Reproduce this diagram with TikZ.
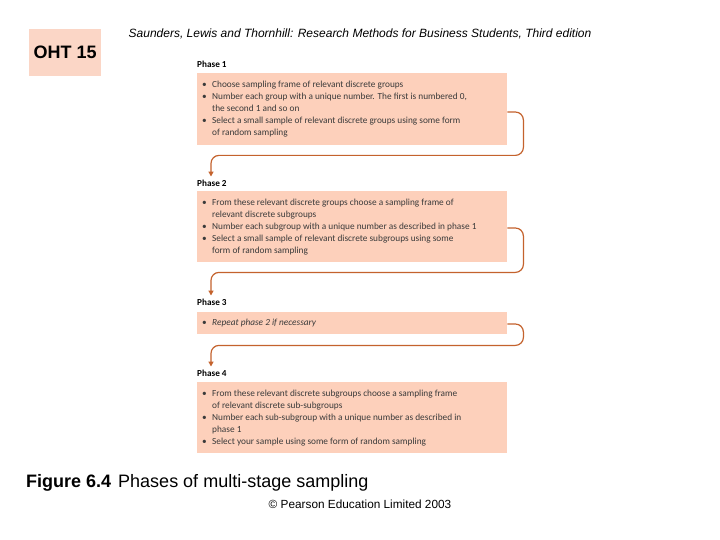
\documentclass[tikz,border=0pt]{standalone}
\usepackage{fontspec}
\setmainfont{Liberation Sans}
\newfontfamily\boxfont{Carlito}
\usetikzlibrary{arrows.meta,calc}
\definecolor{peach}{HTML}{FDD0BB}
\definecolor{ohtpeach}{HTML}{FBD6C6}
\definecolor{conn}{HTML}{C4622D}
\definecolor{txt}{HTML}{3A3A3A}
\newcommand\bu{\makebox[10pt][l]{\textbullet}}
\newcommand\ind{\hspace*{10pt}}
\begin{document}
\begin{tikzpicture}[x=1pt,y=-1pt,
  phasebox/.style={fill=peach, draw=none, anchor=north west, minimum width=310pt, inner sep=0pt},
  boxtext/.style={anchor=north west, inner sep=0pt, align=left, text=txt,
    font=\boxfont\fontsize{9.3}{12.2}\selectfont},
  phaselabel/.style={anchor=west, inner sep=0pt, font=\boxfont\bfseries\fontsize{9.2}{10}\selectfont},
  connector/.style={draw=conn, line width=1.2pt, rounded corners=8pt, -{Triangle[length=5pt,width=5pt]}}]
\useasboundingbox[fill=white] (0,0) rectangle (720,540);

\node[fill=ohtpeach, minimum width=72pt, minimum height=47pt, anchor=north west, inner sep=0pt,
  font=\bfseries\fontsize{18}{20}\selectfont] (oht) at (29,29) {OHT 15};
\node[font=\itshape\fontsize{12}{14}\selectfont] (hdr) at (360,34)
  {Saunders, Lewis and Thornhill: Research Methods for Business Students, Third edition};

% Phase 1
\node[phaselabel] (l1) at (197,64) {Phase 1};
\node[phasebox, minimum height=72pt] (b1) at (197,73) {};
\node[boxtext] (t1) at (202,80.5) {\bu Choose sampling frame of relevant discrete groups\\
\bu Number each group with a unique number. The first is numbered 0,\\
\ind the second 1 and so on\\
\bu Select a small sample of relevant discrete groups using some form\\
\ind of random sampling};

% Phase 2
\node[phaselabel] (l2) at (197,183) {Phase 2};
\node[phasebox, minimum height=71pt] (b2) at (197,191) {};
\node[boxtext] (t2) at (202,198.5) {\bu From these relevant discrete groups choose a sampling frame of\\
\ind relevant discrete subgroups\\
\bu Number each subgroup with a unique number as described in phase 1\\
\bu Select a small sample of relevant discrete subgroups using some\\
\ind form of random sampling};

% Phase 3
\node[phaselabel] (l3) at (197,302) {Phase 3};
\node[phasebox, minimum height=22pt] (b3) at (197,312) {};
\node[boxtext] (t3) at (202,318.5) {\bu \textit{Repeat phase 2 if necessary}};

% Phase 4
\node[phaselabel] (l4) at (197,373) {Phase 4};
\node[phasebox, minimum height=71pt] (b4) at (197,382) {};
\node[boxtext] (t4) at (202,389.5) {\bu From these relevant discrete subgroups choose a sampling frame\\
\ind of relevant discrete sub-subgroups\\
\bu Number each sub-subgroup with a unique number as described in\\
\ind phase 1\\
\bu Select your sample using some form of random sampling};

% connectors
\coordinate (s1) at ($(b1.north east)+(0,39)$);
\coordinate (c1) at ($(b1.south east)+(16,10)$);
\coordinate (e1) at ($(l2.north west)+(14,-3)$);
\draw[connector] (s1) -| (c1) -| (e1);

\coordinate (s2) at ($(b2.north east)+(0,37)$);
\coordinate (c2) at ($(b2.south east)+(16,10)$);
\coordinate (e2) at ($(l3.north west)+(14,-3)$);
\draw[connector] (s2) -| (c2) -| (e2);

\coordinate (s3) at ($(b3.north east)+(0,12)$);
\coordinate (c3) at ($(b3.south east)+(16,11)$);
\coordinate (e3) at ($(l4.north west)+(14,-3)$);
\draw[connector] (s3) -| (c3) -| (e3);

% caption
\node[anchor=base west, inner sep=0pt, font=\fontsize{18}{20}\selectfont] (cap) at (26,487)
  {\textbf{Figure 6.4}\hspace{7pt}Phases of multi-stage sampling};
\node[font=\fontsize{11.8}{13}\selectfont] (copy) at (360,504) {© Pearson Education Limited 2003};
\end{tikzpicture}
\end{document}
